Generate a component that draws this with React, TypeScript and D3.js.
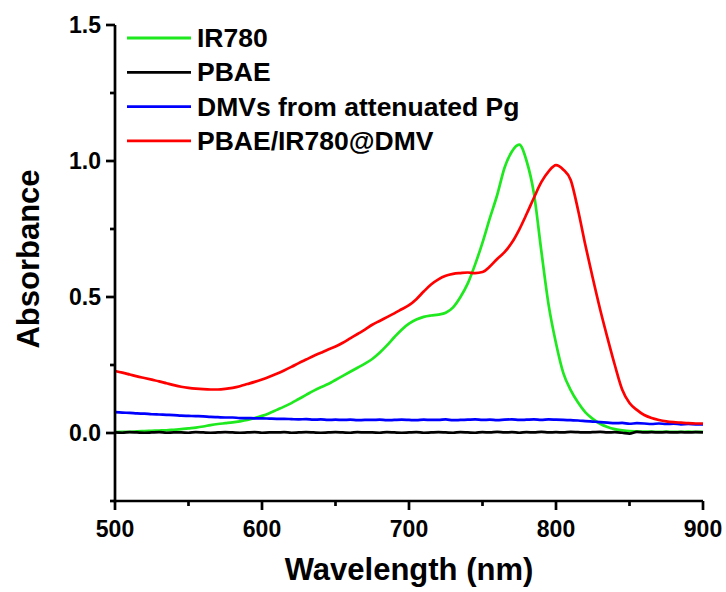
import React from "react";
import * as d3 from "d3";

const wavelengths: number[] = d3.range(500, 901, 5);

const ir780: number[] = [
  0.003, 0.004, 0.004, 0.006, 0.007, 0.008, 0.009, 0.010, 0.012, 0.014,
  0.017, 0.020, 0.024, 0.029, 0.033, 0.036, 0.039, 0.043, 0.048, 0.055,
  0.063, 0.073, 0.085, 0.097, 0.110, 0.125, 0.140, 0.155, 0.168, 0.180,
  0.195, 0.210, 0.225, 0.240, 0.255, 0.272, 0.295, 0.322, 0.352, 0.380,
  0.402, 0.417, 0.427, 0.432, 0.435, 0.442, 0.462, 0.500, 0.550, 0.620,
  0.700, 0.790, 0.875, 0.975, 1.035, 1.060, 1.000, 0.880, 0.670, 0.470,
  0.330, 0.220, 0.158, 0.112, 0.076, 0.052, 0.034, 0.022, 0.014, 0.010,
  0.007, 0.006, 0.005, 0.005, 0.004, 0.005, 0.004, 0.004, 0.005, 0.004,
  0.004,
];

const pbae: number[] = [
  0.002, 0.001, 0.003, 0.002, 0.001, 0.002, 0.003, 0.001, 0.002, 0.002,
  0.001, 0.003, 0.002, 0.001, 0.002, 0.003, 0.002, 0.001, 0.002, 0.003,
  0.001, 0.002, 0.002, 0.003, 0.001, 0.002, 0.003, 0.002, 0.001, 0.002,
  0.003, 0.002, 0.001, 0.003, 0.002, 0.002, 0.001, 0.003, 0.002, 0.001,
  0.002, 0.003, 0.001, 0.002, 0.003, 0.002, 0.001, 0.003, 0.002, 0.001,
  0.003, 0.002, 0.004, 0.002, 0.003, 0.001, 0.003, 0.002, 0.004, 0.002,
  0.003, 0.002, 0.004, 0.003, 0.002, 0.003, 0.004, 0.002, 0.003, 0.001,
  -0.002, 0.004, 0.002, 0.003, 0.002, 0.003, 0.002, 0.003, 0.002, 0.003,
  0.002,
];

const dmv: number[] = [
  0.077, 0.075, 0.074, 0.072, 0.071, 0.069, 0.068, 0.067, 0.066, 0.064,
  0.063, 0.062, 0.061, 0.059, 0.058, 0.057, 0.057, 0.055, 0.055, 0.054,
  0.054, 0.053, 0.052, 0.052, 0.051, 0.050, 0.051, 0.049, 0.050, 0.048,
  0.049, 0.048, 0.049, 0.047, 0.048, 0.048, 0.049, 0.047, 0.048, 0.049,
  0.048, 0.047, 0.049, 0.048, 0.048, 0.050, 0.047, 0.048, 0.049, 0.050,
  0.048, 0.049, 0.047, 0.049, 0.050, 0.048, 0.049, 0.050, 0.048, 0.050,
  0.049, 0.048, 0.047, 0.046, 0.044, 0.042, 0.040, 0.038, 0.036, 0.037,
  0.034, 0.036, 0.035, 0.033, 0.035, 0.033, 0.034, 0.032, 0.033, 0.032,
  0.032,
];

const pbaeIr780Dmv: number[] = [
  0.228, 0.222, 0.215, 0.208, 0.202, 0.196, 0.190, 0.183, 0.176, 0.170,
  0.166, 0.163, 0.161, 0.160, 0.160, 0.162, 0.166, 0.172, 0.180, 0.188,
  0.197, 0.207, 0.218, 0.230, 0.243, 0.257, 0.270, 0.283, 0.295, 0.307,
  0.318, 0.332, 0.348, 0.364, 0.380, 0.398, 0.412, 0.426, 0.440, 0.455,
  0.470, 0.492, 0.520, 0.546, 0.565, 0.578, 0.585, 0.588, 0.590, 0.588,
  0.592, 0.612, 0.640, 0.665, 0.700, 0.748, 0.805, 0.865, 0.922, 0.962,
  0.985, 0.968, 0.930, 0.820, 0.690, 0.570, 0.455, 0.350, 0.250, 0.160,
  0.110, 0.085, 0.066, 0.055, 0.048, 0.043, 0.040, 0.038, 0.036, 0.035,
  0.035,
];

const seriesNames: string[] = ["IR780", "PBAE", "DMVs from attenuated Pg", "PBAE/IR780@DMV"];
const seriesColors: string[] = ["#1ee81e", "#000000", "#0000ff", "#ff0000"];
const seriesValues: number[][] = [ir780, pbae, dmv, pbaeIr780Dmv];

const xMajorTicks: number[] = [500, 600, 700, 800, 900];
const xMinorTicks: number[] = [550, 650, 750, 850];
const yMajorTicks: number[] = [0, 0.5, 1.0, 1.5];
const yMinorTicks: number[] = [-0.25, 0.25, 0.75, 1.25];

const FONT = "'Liberation Sans', Arial, sans-serif";

export default function App() {
  const W = 726;
  const H = 592;
  const left = 115;
  const right = 703;
  const top = 25;
  const bottom = 501;

  const x = d3.scaleLinear().domain([500, 900]).range([left, right]);
  const y = d3.scaleLinear().domain([-0.25, 1.5]).range([bottom, top]);

  const line = d3
    .line<number>()
    .x((_, i) => x(wavelengths[i]))
    .y((v) => y(v))
    .curve(d3.curveMonotoneX);

  const legendY0 = 38;
  const legendDy = 34.3;

  return (
    <svg width={W} height={H} style={{ position: "absolute", left: 0, top: 0 }} fontFamily={FONT}>
      <rect x={0} y={0} width={W} height={H} fill="#ffffff" />
      {seriesValues.map((vals, i) => (
        <path key={i} d={line(vals) || ""} fill="none" stroke={seriesColors[i]} strokeWidth={2.7} strokeLinejoin="round" />
      ))}
      {/* axes */}
      <line x1={left} y1={top} x2={left} y2={bottom + 1.3} stroke="#000" strokeWidth={2.7} />
      <line x1={left - 1.3} y1={bottom} x2={right} y2={bottom} stroke="#000" strokeWidth={2.7} />
      {yMajorTicks.map((t) => (
        <g key={"ym" + t}>
          <line x1={left - 9} x2={left} y1={y(t)} y2={y(t)} stroke="#000" strokeWidth={2.7} />
          <text x={left - 14} y={y(t)} dy="0.36em" textAnchor="end" fontSize={23} fontWeight="bold">
            {d3.format(".1f")(t)}
          </text>
        </g>
      ))}
      {yMinorTicks.map((t) => (
        <line key={"yn" + t} x1={left - 5} x2={left} y1={y(t)} y2={y(t)} stroke="#000" strokeWidth={2.7} />
      ))}
      {xMajorTicks.map((t) => (
        <g key={"xm" + t}>
          <line x1={x(t)} x2={x(t)} y1={bottom} y2={bottom + 9} stroke="#000" strokeWidth={2.7} />
          <text x={x(t)} y={bottom + 36} textAnchor="middle" fontSize={23} fontWeight="bold">
            {t}
          </text>
        </g>
      ))}
      {xMinorTicks.map((t) => (
        <line key={"xn" + t} x1={x(t)} x2={x(t)} y1={bottom} y2={bottom + 5} stroke="#000" strokeWidth={2.7} />
      ))}
      <text x={(left + right) / 2} y={580} textAnchor="middle" fontSize={31} fontWeight="bold">
        Wavelength (nm)
      </text>
      <text transform={`translate(39, ${(top + bottom) / 2 - 4}) rotate(-90)`} textAnchor="middle" fontSize={31} fontWeight="bold">
        Absorbance
      </text>
      {seriesNames.map((name, i) => (
        <g key={name}>
          <line x1={127} x2={191} y1={legendY0 + i * legendDy} y2={legendY0 + i * legendDy} stroke={seriesColors[i]} strokeWidth={2.8} />
          <text x={197} y={legendY0 + i * legendDy + 9} fontSize={26.5} fontWeight="bold">
            {name}
          </text>
        </g>
      ))}
    </svg>
  );
}
